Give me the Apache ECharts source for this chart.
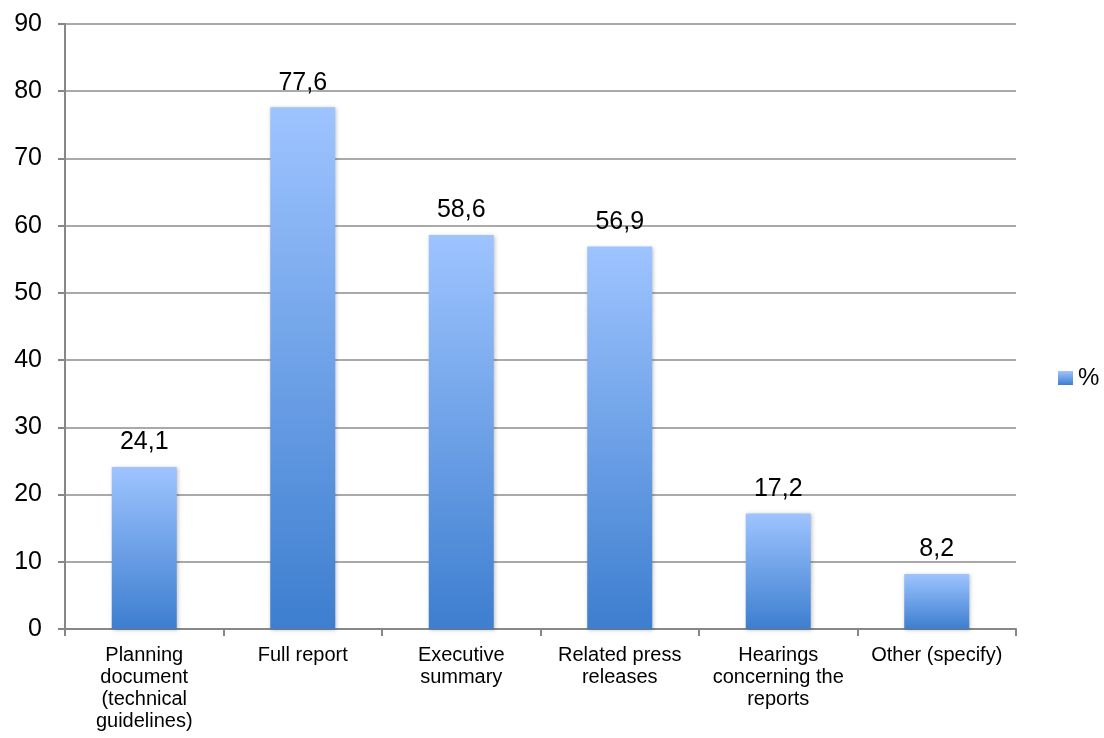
<!DOCTYPE html>
<html><head><meta charset="utf-8">
<script src="https://cdn.jsdelivr.net/npm/echarts@6/dist/echarts.min.js"></script>
<style>html,body{margin:0;padding:0;background:#fff}#c{width:1104px;height:738px}</style>
</head><body><div id="c"></div>
<script>
const categories = ["Planning\ndocument\n(technical\nguidelines)", "Full report", "Executive\nsummary", "Related press\nreleases", "Hearings\nconcerning the\nreports", "Other (specify)"];
const values = [24.1, 77.6, 58.6, 56.9, 17.2, 8.2];
const seriesName = "%";
const yTicks = {min: 0, max: 90, interval: 10};

const FONT = 'Liberation Sans, Arial, sans-serif';
const grad = new echarts.graphic.LinearGradient(0, 0, 0, 1, [
  {offset: 0, color: '#9EC4FF'},
  {offset: 1, color: '#3D7ECF'}
]);
const chart = echarts.init(document.getElementById('c'));
chart.setOption({
  animation: false,
  textStyle: {fontFamily: FONT},
  grid: {left: 65, right: 88, top: 24, bottom: 109, containLabel: false},
  legend: {
    left: 1053, top: 361, orient: 'vertical',
    itemWidth: 15, itemHeight: 14, itemGap: 6,
    textStyle: {fontSize: 24, color: '#000', fontFamily: FONT},
    data: [{name: seriesName, icon: 'rect'}]
  },
  xAxis: {
    type: 'category', data: categories,
    axisLine: {lineStyle: {color: '#878787', width: 2}},
    axisTick: {show: true, length: 7, lineStyle: {color: '#878787', width: 2}, alignWithLabel: false},
    axisLabel: {interval: 0, fontSize: 20, color: '#000', lineHeight: 22, margin: 15, fontFamily: FONT}
  },
  yAxis: {
    type: 'value', min: yTicks.min, max: yTicks.max, interval: yTicks.interval,
    axisLine: {show: true, lineStyle: {color: '#878787', width: 2}},
    axisTick: {show: true, length: 7, lineStyle: {color: '#878787', width: 2}},
    splitLine: {lineStyle: {color: '#8c8c8c', width: 1.5}},
    axisLabel: {fontSize: 25, color: '#000', margin: 23, fontFamily: FONT}
  },
  series: [{
    name: seriesName, type: 'bar', data: values, barWidth: '41%',
    itemStyle: {color: grad, shadowColor: 'rgba(0,0,0,0.25)', shadowBlur: 4, shadowOffsetX: 1, shadowOffsetY: 1},
    label: {show: true, position: 'top', distance: 12, fontSize: 25, color: '#000', fontFamily: FONT,
      formatter: p => String(p.value).replace('.', ',')}
  }]
});
</script></body></html>
